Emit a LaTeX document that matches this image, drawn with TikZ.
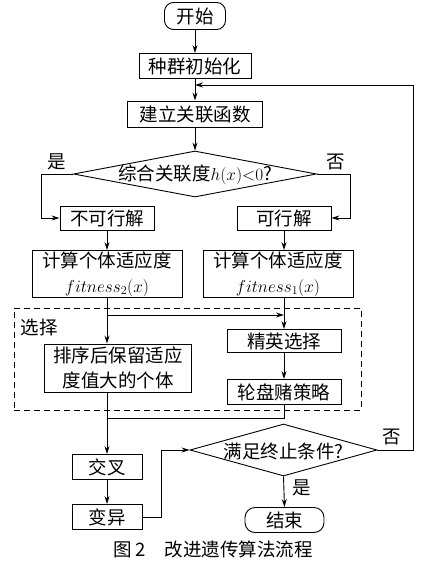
\documentclass[tikz,border=0pt]{standalone}
\usepackage{fontspec}
\newfontfamily\cjk{Noto Sans CJK SC}
\usetikzlibrary{shapes.geometric,arrows.meta}
\begin{document}
\begin{tikzpicture}[x=1pt,y=-1pt,
  every node/.style={font=\cjk\fontsize{18.5}{25}\selectfont},
  box/.style={draw, line width=0.9pt, inner sep=0pt, align=center},
  term/.style={box, rounded corners=9pt},
  dia/.style={draw, line width=0.9pt, shape=diamond, inner sep=0pt, aspect=5},
  arr/.style={line width=0.9pt, -{Stealth[length=8pt,width=5pt]}},
  ln/.style={line width=0.9pt},
  lbl/.style={inner sep=0pt}]
\useasboundingbox (0,0) rectangle (428,564);
% nodes
\node[term, minimum width=61pt, minimum height=27pt] (start) at (195,16) {开始};
\node[box, minimum width=112pt, minimum height=25pt] (init) at (195,66) {种群初始化};
\node[box, minimum width=135pt, minimum height=26pt] (rel) at (195,114) {建立关联函数};
\node[dia, minimum width=243pt, minimum height=46pt] (d1) at (195,174) {};
\node[lbl] (d1t) at (195,175) {综合关联度$h(x){<}0$?};
\node[box, minimum width=94pt, minimum height=24pt] (nk) at (107,218) {不可行解};
\node[box, minimum width=94pt, minimum height=24pt] (k) at (284,218) {可行解};
\node[box, minimum width=150pt, minimum height=47pt] (c2) at (107,274) {计算个体适应度\\$fitness_2(x)$};
\node[box, minimum width=150pt, minimum height=47pt] (c1) at (278,274) {计算个体适应度\\$fitness_1(x)$};
\node[draw, line width=0.9pt, dash pattern=on 6pt off 4pt, minimum width=347pt, minimum height=102pt, inner sep=0pt] (sel) at (187.5,359) {};
\node[lbl] (selt) at (39,327) {选择};
\node[box, minimum width=114pt, minimum height=23pt] (jing) at (284,341) {精英选择};
\node[box, minimum width=114pt, minimum height=25pt] (lun) at (284,392) {轮盘赌策略};
\node[box, minimum width=147pt, minimum height=48pt] (sort) at (118,368) {排序后保留适应\\度值大的个体};
\node[box, minimum width=70pt, minimum height=25pt] (cross) at (107,467) {交叉};
\node[box, minimum width=70pt, minimum height=25pt] (mut) at (107,517) {变异};
\node[dia, minimum width=187pt, minimum height=52pt] (d2) at (283.5,450) {};
\node[lbl] (d2t) at (283.5,451) {满足终止条件?};
\node[term, minimum width=79pt, minimum height=25pt, rounded corners=10pt] (end) at (284.5,520) {结束};
\node[lbl] (yes1) at (57,162) {是};
\node[lbl] (no1) at (336,162) {否};
\node[lbl] (no2) at (392,437) {否};
\node[lbl] (yes2) at (302,488) {是};
\node[lbl] (cap) at (213,549) {图 2\hspace{1em}改进遗传算法流程};
% coordinates
\coordinate (j1) at (195,85);
\coordinate (br) at (107,315);
\coordinate (m) at (107,418);
% connectors
\draw[arr] (start) -- (init);
\draw[arr] (init) -- (rel);
\draw[arr] (rel) -- (d1);
\draw[arr] (d1.west) -- ++(-32,0) |- (nk.west);
\draw[arr] (d1.east) -- ++(33,0) |- (k.east);
\draw[arr] (nk.south) -- (nk.south |- c2.north);
\draw[arr] (k.south) -- (k.south |- c1.north);
\draw[arr] (c2.south) -- (c2.south |- sort.north);
\draw[arr] (c1.south -| jing.north) -- (jing.north);
\draw[arr] (br) -- (br -| jing.north);
\draw[arr] (jing) -- (lun);
\draw[ln] (lun.south) |- (m);
\draw[arr] (sort.south -| cross.north) -- (cross.north);
\draw[arr] (cross) -- (mut);
\draw[arr] (mut.east) -- ++(19,0) |- (d2.west);
\draw[arr] (d2.east) -- ++(36,0) |- (j1);
\draw[arr] (d2.south) -- (end.north);
\end{tikzpicture}
\end{document}
